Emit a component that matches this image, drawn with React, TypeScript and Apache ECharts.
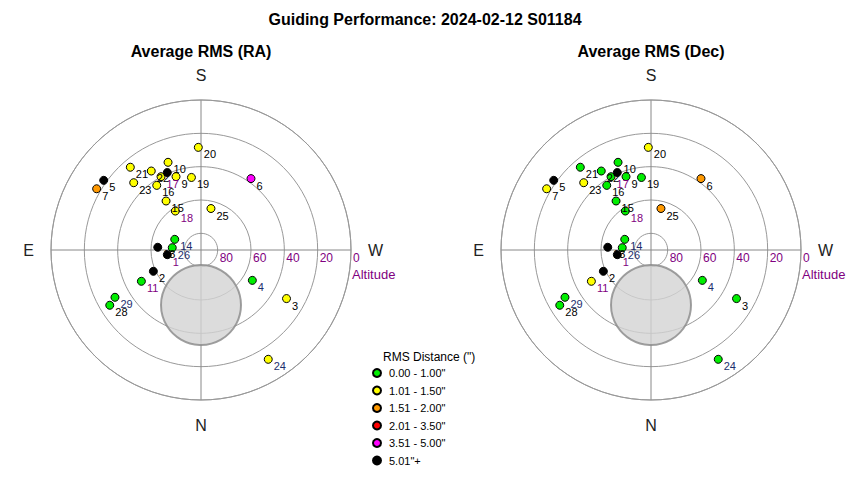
import React, { useEffect, useRef } from 'react';
import * as echarts from 'echarts';

// ---- data ----
const pointIds = [1, 2, 3, 4, 5, 6, 7, 9, 10, 11, 13, 14, 15, 16, 17, 18, 19, 20, 21, 22, 23, 24, 25, 26, 27, 28, 29];
const azimuthDeg = [82.1, 65.9, 299.6, 300.6, 125.6, 215.0, 120.4, 161.2, 159.4, 62.3, 93.6, 112.1, 144.5, 145.6, 151.4, 146.6, 172.5, 178.5, 139.5, 147.8, 135.0, 328.4, 193.5, 94.6, 156.5, 58.8, 61.2];
const altitudeDeg = [69.6, 58.7, 31.0, 54.2, 18.2, 37.7, 17.4, 43.5, 33.8, 49.6, 64.0, 73.0, 53.9, 43.0, 39.9, 62.0, 46.1, 28.4, 24.7, 34.0, 32.9, 13.0, 64.4, 72.7, 39.3, 26.0, 31.1];
// RMS bin index per point: 0 green .. 5 black
const raBin = [5, 5, 1, 0, 5, 4, 2, 1, 1, 0, 5, 0, 1, 1, 1, 1, 1, 1, 1, 1, 1, 1, 1, 0, 5, 0, 0];
const decBin = [5, 5, 0, 0, 5, 2, 1, 0, 0, 1, 5, 0, 0, 0, 0, 0, 0, 1, 0, 0, 1, 0, 2, 0, 5, 0, 0];
const binLabels = ['0.00 - 1.00"', '1.01 - 1.50"', '1.51 - 2.00"', '2.01 - 3.50"', '3.51 - 5.00"', '5.01"+'];
const altitudeTicks = [0, 20, 40, 60, 80];
const compass: Record<string, string> = { '-90': 'W', '0': 'N', '90': 'E', '180': 'S' };
const zoneAz = [0];
const zoneAlt = [57];
const chartTitles = ['Average RMS (RA)', 'Average RMS (Dec)'];
const mainTitle = 'Guiding Performance: 2024-02-12 S01184';
const legendTitle = 'RMS Distance (")';

// ---- styles ----
const binColors = ['#00ee00', '#ffff00', '#ff9900', '#ff0000', '#ff00ff', '#000000'];
const purpleLabels = [1, 11, 17, 18];
const navyLabels = [4, 14, 24, 26, 29];
const hiddenLabels = [27];
const FONT = '"Liberation Sans", Arial, sans-serif';
const centers = [[201, 250], [651, 250]];

function labelColor(id: number) {
  if (purpleLabels.includes(id)) return '#800080';
  if (navyLabels.includes(id)) return '#1c2f6e';
  return '#000';
}

export default function App() {
  const ref = useRef<HTMLDivElement>(null);
  useEffect(() => {
    document.body.style.margin = '0';
    const chart = echarts.init(ref.current!, null, { renderer: 'svg' });
    const polar = centers.map((c) => ({ center: c, radius: 150 }));
    const angleAxis = centers.map((_, i) => ({
      polarIndex: i,
      type: 'value',
      min: -90,
      max: 270,
      interval: 90,
      startAngle: 0,
      clockwise: true,
      axisLine: { show: true, lineStyle: { color: '#999', width: 1 } },
      axisTick: { show: false },
      splitLine: { show: true, lineStyle: { color: '#888', width: 1 } },
      axisLabel: {
        margin: 17,
        fontSize: 16,
        color: '#222',
        fontFamily: FONT,
        formatter: (v: number) => compass[String(v)] || '',
      },
    }));
    const radiusAxis = centers.map((_, i) => ({
      polarIndex: i,
      type: 'value',
      min: 0,
      max: 90,
      interval: 20,
      inverse: true,
      axisLine: { show: false },
      axisTick: { show: false },
      splitLine: { show: true, lineStyle: { color: '#999', width: 1 } },
      axisLabel: {
        show: true,
        color: '#800080',
        fontSize: 12,
        fontFamily: FONT,
        align: 'left',
        verticalAlign: 'middle',
        margin: -8,
        padding: [0, 0, 0, 2],
        formatter: (v: number) => (altitudeTicks.includes(v) ? String(v) : ''),
      },
    }));

    const series: any[] = [];
    centers.forEach((_, c) => {
      series.push({
        type: 'scatter',
        coordinateSystem: 'polar',
        polarIndex: c,
        silent: true,
        z: 1,
        symbol: 'circle',
        symbolSize: 80,
        itemStyle: { color: '#d3d3d3', borderColor: '#888', borderWidth: 2 },
        data: zoneAz.map((az, k) => [zoneAlt[k], az]),
      });
      const bins = c === 0 ? raBin : decBin;
      binLabels.forEach((name, b) => {
        const data = pointIds
          .map((id, k) => ({ id, k }))
          .filter(({ k }) => bins[k] === b)
          .map(({ id, k }) => ({
            value: [altitudeDeg[k], azimuthDeg[k]],
            name: String(id),
            label: { color: labelColor(id), show: !hiddenLabels.includes(id) },
          }));
        series.push({
          type: 'scatter',
          name,
          coordinateSystem: 'polar',
          polarIndex: c,
          silent: true,
          z: 2,
          symbol: 'circle',
          symbolSize: 8,
          itemStyle: { color: binColors[b], borderColor: '#000', borderWidth: 1, opacity: 1 },
          label: {
            show: true,
            position: 'right',
            distance: 1,
            offset: [0, 7],
            fontSize: 11,
            fontFamily: FONT,
            formatter: (p: any) => p.name,
          },
          emphasis: { disabled: true },
          data,
        });
      });
    });

    chart.setOption({
      animation: false,
      backgroundColor: '#fff',
      title: [
        { text: mainTitle, left: 'center', top: 11, padding: 0, textStyle: { fontSize: 16, fontWeight: 'bold', color: '#000', fontFamily: FONT } },
        ...chartTitles.map((t, i) => ({
          text: t, left: centers[i][0], top: 43, textAlign: 'center', padding: 0,
          textStyle: { fontSize: 16, fontWeight: 'bold', color: '#000', fontFamily: FONT },
        })),
        { text: legendTitle, left: 383, top: 351, padding: 0, textStyle: { fontSize: 12, fontWeight: 'normal', color: '#000', fontFamily: FONT } },
      ],
      legend: {
        data: binLabels,
        orient: 'vertical',
        left: 372,
        top: 367,
        padding: 0,
        icon: 'circle',
        itemWidth: 8,
        itemHeight: 8,
        itemGap: 5.5,
        selectedMode: false,
        textStyle: { fontSize: 11, color: '#000', fontFamily: FONT, lineHeight: 12, padding: [0, 0, 0, 3] },
      },
      graphic: centers.map((c) => ({
        type: 'text',
        left: c[0] + 151,
        top: 268,
        style: { text: 'Altitude', fill: '#800080', font: `13px ${FONT}` },
      })),
      polar,
      angleAxis,
      radiusAxis,
      series,
    });
    return () => chart.dispose();
  }, []);
  return <div ref={ref} style={{ width: 850, height: 480 }} />;
}
